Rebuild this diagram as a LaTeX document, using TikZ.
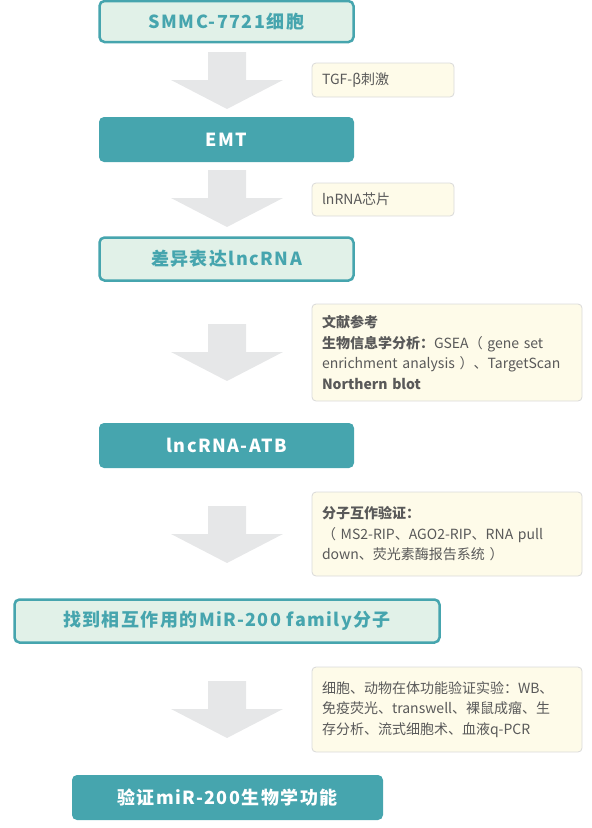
\documentclass[tikz,border=0pt]{standalone}
\usepackage{fontspec}
\setmainfont{Noto Sans CJK SC}
\newfontfamily\stepfont[LetterSpace=8]{Noto Sans CJK SC}
\usepackage{tikz}
\usetikzlibrary{positioning}
\definecolor{tealfill}{HTML}{46A5AE}
\definecolor{mintfill}{HTML}{E1F1E8}
\definecolor{arrowgray}{HTML}{E6E7E8}
\definecolor{notefill}{HTML}{FEFBE9}
\definecolor{noteline}{HTML}{D9D9D9}
\definecolor{notetext}{HTML}{595959}

\begin{document}
\begin{tikzpicture}[x=1pt, y=-1pt,
    stepmint/.style={draw=tealfill, line width=2.5pt, fill=mintfill, rounded corners=5pt,
        text=tealfill, font=\stepfont\fontsize{18}{20}\selectfont\bfseries, inner sep=0pt},
    stepteal/.style={fill=tealfill, rounded corners=5pt, text=white,
        font=\stepfont\fontsize{18}{20}\selectfont\bfseries, inner sep=0pt},
    notebox/.style={draw=noteline, line width=0.8pt, fill=notefill, rounded corners=4pt,
        text=notetext, font=\fontsize{14}{20.5}\selectfont, align=left,
        inner xsep=10pt, inner ysep=0pt},
    arrowshape/.style={fill=arrowgray}]
    \useasboundingbox (0,0) rectangle (592,828);

    % --- BIG DOWN ARROWS ---
    \foreach \t in {52,170,324,506,681}
        \fill[arrowshape, shift={(227,\t)}] (-19,0) -- (19,0) -- (19,28) -- (56,28)
            -- (0,57) -- (-56,28) -- (-19,28) -- cycle;

    % --- MAIN STEPS ---
    \node[stepmint, minimum width=254, minimum height=41] (cell) at (226.5,21.5) {SMMC-7721细胞};
    \node[stepteal, minimum width=255, minimum height=45] (emt) at (226.5,139.5) {EMT};
    \node[stepmint, minimum width=254, minimum height=43] (diff) at (226.5,259) {差异表达lncRNA};
    \node[stepteal, minimum width=255, minimum height=45] (atb) at (226.5,445.5) {lncRNA-ATB};
    \node[stepmint, minimum width=425, minimum height=43] (mir) at (227,621) {找到相互作用的MiR-200 family分子};
    \node[stepteal, minimum width=311, minimum height=45] (func) at (227.5,797.5) {验证miR-200生物学功能};

    % --- SIDE NOTES ---
    \node[notebox, text width=122, minimum height=34] (tgf) at (383,80) {TGF-β刺激};
    \node[notebox, text width=122, minimum height=33] (chip) at (383,199.5) {lnRNA芯片};
    \node[notebox, text width=250, minimum height=97] (lit) at (447,352.5)
        {\textbf{文献参考}\\
         \textbf{生物信息学分析：}GSEA（ gene set\\
         enrichment analysis ）、TargetScan\\
         \textbf{Northern blot}};
    \node[notebox, text width=250, minimum height=84] (inter) at (447,534)
        {\textbf{分子互作验证：}\\
         （ MS2-RIP、AGO2-RIP、RNA pull\\
         down、荧光素酶报告系统 ）};
    \node[notebox, text width=250, minimum height=85] (exp) at (447,709.5)
        {细胞、动物在体功能验证实验：WB、\\
         免疫荧光、transwell、裸鼠成瘤、生\\
         存分析、流式细胞术、血液q-PCR};

\end{tikzpicture}
\end{document}
